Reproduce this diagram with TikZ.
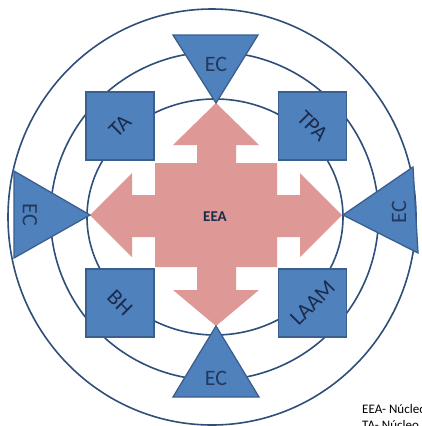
\documentclass[tikz,border=0pt]{standalone}
\usepackage{fontspec}
\usepackage{graphicx}
\setmainfont{Carlito}
\definecolor{boxblue}{HTML}{4F81BD}
\definecolor{boxline}{HTML}{3A5F8E}
\definecolor{ringline}{HTML}{2F4F7A}
\definecolor{arrowpink}{HTML}{DE9896}
\definecolor{labelnavy}{HTML}{1B2B4B}
\tikzset{
  ring/.style={draw=ringline, line width=1.6pt},
  blueshape/.style={fill=boxblue, draw=boxline, line width=1.3pt, line join=miter},
  sqbox/.style={blueshape, minimum width=68pt, minimum height=68pt, inner sep=0pt,
    text=labelnavy, font=\fontsize{22}{23}\selectfont},
  eclbl/.style={text=labelnavy!85!boxblue, font=\fontsize{22}{23}\selectfont, inner sep=0pt},
  legend/.style={text=black, font=\fontsize{13}{14}\selectfont, anchor=west, inner sep=0pt}
}
\begin{document}
\begin{tikzpicture}[x=1pt, y=-1pt]
\useasboundingbox (0,0) rectangle (421,426);
\clip (0,0) rectangle (421,426);
\fill[white] (0,0) rectangle (421,426);
% rings
\draw[ring] (212,217) ellipse [x radius=204, y radius=208];
\draw[ring] (214.5,216) circle [radius=164];
\draw[ring] (215,217) ellipse [x radius=128, y radius=118];
% quad arrow
\fill[arrowpink] (216,103) -- (259,145) -- (236,145) -- (236,163) -- (277,163)
  -- (277,195) -- (300,195) -- (300,173) -- (342,215) -- (300,257) -- (300,237)
  -- (277,237) -- (277,267) -- (236,267) -- (236,290) -- (259,290) -- (216,326)
  -- (173,290) -- (197,290) -- (197,267) -- (155,267) -- (155,237) -- (132,237)
  -- (132,257) -- (90,215) -- (132,173) -- (132,195) -- (155,195) -- (155,163)
  -- (197,163) -- (197,145) -- (173,145) -- cycle;
\node[text=labelnavy, font=\bfseries\fontsize{15}{16}\selectfont, inner sep=0pt] (eea) at (215,217) {EEA};
% triangles
\draw[blueshape] (173,35) -- (258,35) -- (216,103) -- cycle;
\draw[blueshape] (216,326) -- (259,397) -- (173,397) -- cycle;
\draw[blueshape] (14,171) -- (90,215) -- (14,258) -- cycle;
\draw[blueshape] (413,167) -- (418,253) -- (343,215) -- cycle;
\node[eclbl] (ecT) at (216,64) {EC};
\node[eclbl] (ecB) at (216,378) {EC};
\node[eclbl, rotate=-90] (ecL) at (30,215) {EC};
\node[eclbl, rotate=90] (ecR) at (399,212) {EC};
% squares with their labels
\node[sqbox] (ta) at (120,126) {\rotatebox{45}{TA}};
\node[sqbox] (tpa) at (312.5,126) {\rotatebox{-45}{TPA}};
\node[sqbox] (bh) at (120,303) {\rotatebox{-45}{BH}};
\node[sqbox] (laam) at (312.5,303) {\rotatebox{45}{LAAM}};
% legend (cut off by the border)
\node[legend] (leg1) at (362,409) {EEA- Núcleo};
\node[legend] (leg2) at (362,425) {TA- Núcleo};
\end{tikzpicture}
\end{document}
